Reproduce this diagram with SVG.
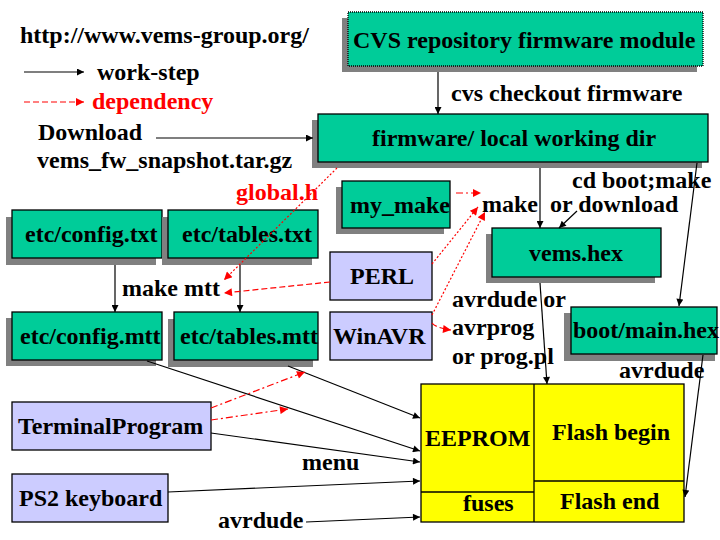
<svg xmlns="http://www.w3.org/2000/svg" width="720" height="540" viewBox="0 0 720 540">
<style>
text{font-family:"Liberation Serif","Times New Roman",serif;font-size:24px;font-weight:bold;fill:#000}
.red{fill:#ff0000}
.sh{fill:#808080}
.g{fill:#00cc99;stroke:#000;stroke-width:1.3}
.l{fill:#ccccff;stroke:#000;stroke-width:1.3}
.y{fill:#ffff00;stroke:#000;stroke-width:1.3}
.k{fill:none;stroke:#000;stroke-width:1.2;marker-end:url(#ak)}
.r{fill:none;stroke:#ff0000;stroke-width:1.2;marker-end:url(#ar)}
.dot{stroke-dasharray:2,2}
.dash{stroke-dasharray:6,3}
.dd{stroke-dasharray:7,3,2,3}
</style>
<defs>
<marker id="ak" viewBox="0 0 10 10" refX="10" refY="5" markerWidth="9" markerHeight="7" markerUnits="userSpaceOnUse" orient="auto"><path d="M0,0L10,5L0,10z" fill="#000"/></marker>
<marker id="ar" viewBox="0 0 10 10" refX="10" refY="5" markerWidth="10" markerHeight="8" markerUnits="userSpaceOnUse" orient="auto"><path d="M0,0L10,5L0,10z" fill="#ff0000"/></marker>
</defs>
<rect width="720" height="540" fill="#fff"/>

<g id="legend">
<text x="20" y="43">http://www.vems-group.org/</text>
<line x1="24" y1="72" x2="84" y2="72" class="k"/>
<text x="97" y="80">work-step</text>
<line x1="24" y1="102" x2="84" y2="102" class="r dash"/>
<text x="92" y="109" class="red">dependency</text>
<text x="38" y="140">Download</text>
<text x="37" y="168">vems_fw_snapshot.tar.gz</text>
</g>

<g id="cvs">
<rect x="342" y="18" width="355" height="54" class="sh"/>
<rect x="348" y="12" width="355" height="54" class="g" stroke-dasharray="1,1"/>
<text x="353" y="48">CVS repository firmware module</text>
</g>

<g id="firmware">
<rect x="312" y="120" width="390" height="48" class="sh"/>
<rect x="318" y="114" width="390" height="48" class="g"/>
<text x="372" y="146">firmware/ local working dir</text>
</g>

<g id="my_make">
<rect x="336" y="187" width="108" height="47" class="sh"/>
<rect x="342" y="181" width="108" height="47" class="g"/>
<text x="350" y="213">my_make</text>
</g>

<g id="vems_hex">
<rect x="486" y="234" width="169" height="49" class="sh"/>
<rect x="492" y="228" width="169" height="49" class="g"/>
<text x="529" y="261">vems.hex</text>
</g>

<g id="config_txt">
<rect x="6" y="217" width="150" height="48" class="sh"/>
<rect x="12" y="210" width="150" height="48" class="g"/>
<text x="25" y="242">etc/config.txt</text>
</g>

<g id="tables_txt">
<rect x="162" y="217" width="150" height="48" class="sh"/>
<rect x="168" y="210" width="150" height="48" class="g"/>
<text x="182" y="242">etc/tables.txt</text>
</g>

<g id="perl">
<rect x="330" y="252" width="102" height="48" class="l"/>
<text x="350" y="284">PERL</text>
</g>

<g id="winavr">
<rect x="330" y="312" width="102" height="48" class="l"/>
<text x="333" y="344">WinAVR</text>
</g>

<g id="config_mtt">
<rect x="6" y="318" width="150" height="48" class="sh"/>
<rect x="12" y="312" width="150" height="48" class="g"/>
<text x="20" y="344">etc/config.mtt</text>
</g>

<g id="tables_mtt">
<rect x="168" y="319" width="145" height="48" class="sh"/>
<rect x="174" y="312" width="144" height="48" class="g"/>
<text x="180" y="344">etc/tables.mtt</text>
</g>

<g id="boot_main_hex">
<rect x="564" y="313" width="151" height="48" class="sh"/>
<rect x="571" y="307" width="146" height="47" class="g"/>
<text x="573" y="338">boot/main.hex</text>
</g>

<g id="terminal">
<rect x="12" y="402" width="199" height="48" class="l"/>
<text x="18" y="434">TerminalProgram</text>
</g>

<g id="ps2">
<rect x="12" y="474" width="156" height="48" class="l"/>
<text x="19" y="506">PS2 keyboard</text>
</g>

<g id="chip">
<rect x="421" y="384" width="263" height="138" class="y"/>
<line x1="534" y1="384" x2="534" y2="522" stroke="#000" stroke-width="1.3"/>
<line x1="421" y1="492" x2="534" y2="492" stroke="#000" stroke-width="1.3"/>
<line x1="534" y1="481" x2="684" y2="481" stroke="#000" stroke-width="1.3"/>
<text x="425" y="446">EEPROM</text>
<text x="552" y="440">Flash begin</text>
<text x="560" y="509">Flash end</text>
<text x="463" y="511">fuses</text>
</g>

<g id="connectors">
<line x1="156" y1="138" x2="313" y2="138" class="k"/>
<line x1="438" y1="72" x2="438" y2="114" class="k"/>
<line x1="540" y1="168" x2="540" y2="228" class="k"/>
<line x1="577" y1="211" x2="559" y2="228" class="k"/>
<line x1="697" y1="163" x2="679" y2="306" class="k"/>
<line x1="540" y1="283" x2="547" y2="384" class="k"/>
<line x1="703" y1="355" x2="685" y2="497" class="k"/>
<line x1="115" y1="265" x2="115" y2="312" class="k"/>
<line x1="240" y1="265" x2="240" y2="312" class="k"/>
<line x1="147" y1="361" x2="420" y2="451" class="k"/>
<line x1="288" y1="366" x2="420" y2="418" class="k"/>
<line x1="211" y1="433" x2="420" y2="462" class="k"/>
<line x1="168" y1="492" x2="420" y2="481" class="k"/>
<line x1="306" y1="522" x2="420" y2="517" class="k"/>
<line x1="337" y1="168" x2="224" y2="280" class="r dot"/>
<line x1="330" y1="282" x2="224" y2="293" class="r dash"/>
<line x1="456" y1="193" x2="481" y2="193" class="r dd"/>
<line x1="432" y1="264" x2="478" y2="207" class="r dot"/>
<line x1="432" y1="315" x2="485" y2="212" class="r dot"/>
<path d="M432,323 Q436,328 451,330" class="r dash"/>
<line x1="211" y1="408" x2="305" y2="372" class="r dd"/>
<line x1="211" y1="420" x2="288" y2="409" class="r dd"/>
</g>

<g id="labels">
<text x="451" y="101">cvs checkout firmware</text>
<text x="236" y="200" class="red">global.h</text>
<text x="572" y="188">cd boot;make</text>
<text x="482" y="212" xml:space="preserve">make  or download</text>
<text x="122" y="296">make mtt</text>
<text x="452" y="307">avrdude or</text>
<text x="452" y="335">avrprog</text>
<text x="452" y="364">or prog.pl</text>
<text x="619" y="378">avrdude</text>
<text x="302" y="470">menu</text>
<text x="218" y="528">avrdude</text>
</g>
</svg>
